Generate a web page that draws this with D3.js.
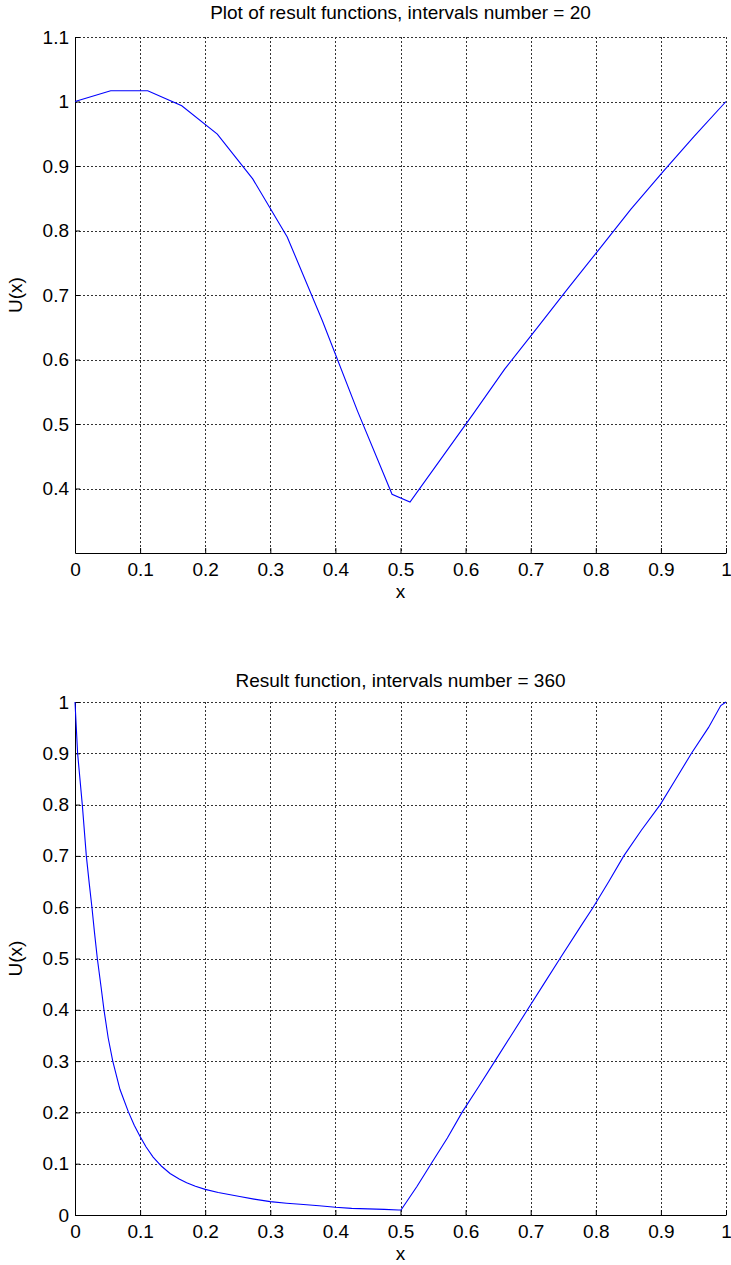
<!DOCTYPE html>
<html>
<head>
<meta charset="utf-8">
<script src="https://cdn.jsdelivr.net/npm/d3@7"></script>
<style>
  html, body { margin: 0; padding: 0; background: #fff; }
  svg { display: block; }
  text { font-family: "Liberation Sans", Arial, sans-serif; fill: #000; }
</style>
</head>
<body>
<svg id="chart" width="731" height="1265"></svg>
<script>
// ---------- Data ----------
const titleTop = "Plot of result functions, intervals number = 20";
const titleBottom = "Result function, intervals number = 360";
const xLabel = "x";
const yLabel = "U(x)";

const xTicks = [0, 0.1, 0.2, 0.3, 0.4, 0.5, 0.6, 0.7, 0.8, 0.9, 1];
const xTickLabels = ["0", "0.1", "0.2", "0.3", "0.4", "0.5", "0.6", "0.7", "0.8", "0.9", "1"];
const yTicksTop = [0.4, 0.5, 0.6, 0.7, 0.8, 0.9, 1, 1.1];
const yTickLabelsTop = ["0.4", "0.5", "0.6", "0.7", "0.8", "0.9", "1", "1.1"];
const yTicksBottom = [0, 0.1, 0.2, 0.3, 0.4, 0.5, 0.6, 0.7, 0.8, 0.9, 1];
const yTickLabelsBottom = ["0", "0.1", "0.2", "0.3", "0.4", "0.5", "0.6", "0.7", "0.8", "0.9", "1"];

// top plot (20 intervals)
const topX = [0, 0.0548, 0.1117, 0.164, 0.2186, 0.273, 0.326, 0.380, 0.434, 0.487, 0.5146,
              0.563, 0.612, 0.660, 0.709, 0.757, 0.806, 0.854, 0.903, 0.951, 1.0];
const topY = [1.0, 1.0166, 1.0166, 0.9933, 0.9494, 0.880, 0.79, 0.66, 0.52, 0.391, 0.379,
              0.447, 0.516, 0.585, 0.648, 0.71, 0.772, 0.833, 0.891, 0.946, 1.0];

// bottom plot (360 intervals)
const botX = [0, 0.002, 0.004, 0.0112, 0.0174, 0.022, 0.026, 0.030, 0.0343,
              0.040, 0.0445, 0.051, 0.058, 0.069, 0.082, 0.091, 0.1, 0.109, 0.120, 0.133, 0.146,
              0.160, 0.1715, 0.185, 0.2, 0.22, 0.253, 0.275, 0.3, 0.325, 0.346, 0.375,
              0.4, 0.425, 0.45, 0.475, 0.497, 0.5008,
              0.525, 0.548, 0.572, 0.595, 0.62, 0.645, 0.67, 0.695, 0.72, 0.745, 0.778,
              0.796, 0.82, 0.843, 0.87, 0.899, 0.923, 0.947, 0.973, 0.992, 1.0];
const botY = [1.0, 0.95, 0.9, 0.8, 0.7, 0.645, 0.6, 0.55, 0.5,
              0.445, 0.4, 0.345, 0.3, 0.245, 0.201, 0.175, 0.153, 0.133, 0.113, 0.095, 0.081,
              0.070, 0.063, 0.056, 0.050, 0.044, 0.036, 0.031, 0.026, 0.023, 0.021, 0.018,
              0.015, 0.013, 0.012, 0.011, 0.0097, 0.0097,
              0.055, 0.102, 0.15, 0.201, 0.25, 0.3, 0.35, 0.4, 0.45, 0.5, 0.565,
              0.6, 0.65, 0.7, 0.75, 0.8, 0.85, 0.9, 0.95, 0.993, 1.0];

// ---------- Drawing ----------
const svg = d3.select("#chart");
const FS = 19;

function drawPanel(cfg) {
  const x = d3.scaleLinear().domain([0, 1]).range([cfg.left, cfg.right]);
  const y = d3.scaleLinear().domain(cfg.yDomain).range([cfg.bottom, cfg.top]);
  const g = svg.append("g");

  // grid
  const grid = g.append("g").attr("stroke", "#333").attr("stroke-width", 1)
    .attr("stroke-dasharray", "2,2").attr("shape-rendering", "crispEdges");
  grid.selectAll("line.v").data(xTicks.filter(d => d > 0)).join("line")
    .attr("x1", d => Math.round(x(d)) + 0.5).attr("x2", d => Math.round(x(d)) + 0.5)
    .attr("y1", cfg.top).attr("y2", cfg.bottom);
  grid.selectAll("line.h").data(cfg.yTicks.filter(d => d > cfg.yDomain[0])).join("line")
    .attr("y1", d => Math.round(y(d)) + 0.5).attr("y2", d => Math.round(y(d)) + 0.5)
    .attr("x1", cfg.left).attr("x2", cfg.right);

  // axes
  const ax = g.append("g").attr("transform", `translate(0,${cfg.bottom})`)
    .call(d3.axisBottom(x).tickValues(xTicks)
      .tickFormat((d, i) => xTickLabels[i]).tickSizeInner(-5).tickSizeOuter(0).tickPadding(10));
  const ay = g.append("g").attr("transform", `translate(${cfg.left},0)`)
    .call(d3.axisLeft(y).tickValues(cfg.yTicks)
      .tickFormat((d, i) => cfg.yLabels[i]).tickSizeInner(-5).tickSizeOuter(0).tickPadding(6));
  [ax, ay].forEach(a => {
    a.selectAll("text").attr("font-size", FS).attr("font-family", "Liberation Sans, Arial, sans-serif");
    a.selectAll("line").attr("stroke", "#000");
    a.select(".domain").attr("stroke", "#000");
  });

  // data line
  const pts = cfg.xs.map((v, i) => [v, cfg.ys[i]]);
  g.append("path").datum(pts)
    .attr("fill", "none").attr("stroke", "#0000ff").attr("stroke-width", 1.1)
    .attr("d", d3.line().x(d => x(d[0])).y(d => y(d[1])));

  // title & labels
  g.append("text").attr("x", (cfg.left + cfg.right) / 2).attr("y", cfg.titleY)
    .attr("text-anchor", "middle").attr("font-size", FS).text(cfg.title);
  g.append("text").attr("x", (cfg.left + cfg.right) / 2).attr("y", cfg.bottom + 45)
    .attr("text-anchor", "middle").attr("font-size", FS).text(xLabel);
  g.append("text")
    .attr("transform", `translate(22,${(cfg.top + cfg.bottom) / 2}) rotate(-90)`)
    .attr("text-anchor", "middle").attr("font-size", FS).text(yLabel);
}

drawPanel({
  left: 75, right: 726, top: 37, bottom: 553, yDomain: [0.3, 1.1],
  yTicks: yTicksTop, yLabels: yTickLabelsTop, xs: topX, ys: topY,
  title: titleTop, titleY: 19
});
drawPanel({
  left: 75, right: 726, top: 702, bottom: 1215, yDomain: [0, 1],
  yTicks: yTicksBottom, yLabels: yTickLabelsBottom, xs: botX, ys: botY,
  title: titleBottom, titleY: 687
});
</script>
</body>
</html>
